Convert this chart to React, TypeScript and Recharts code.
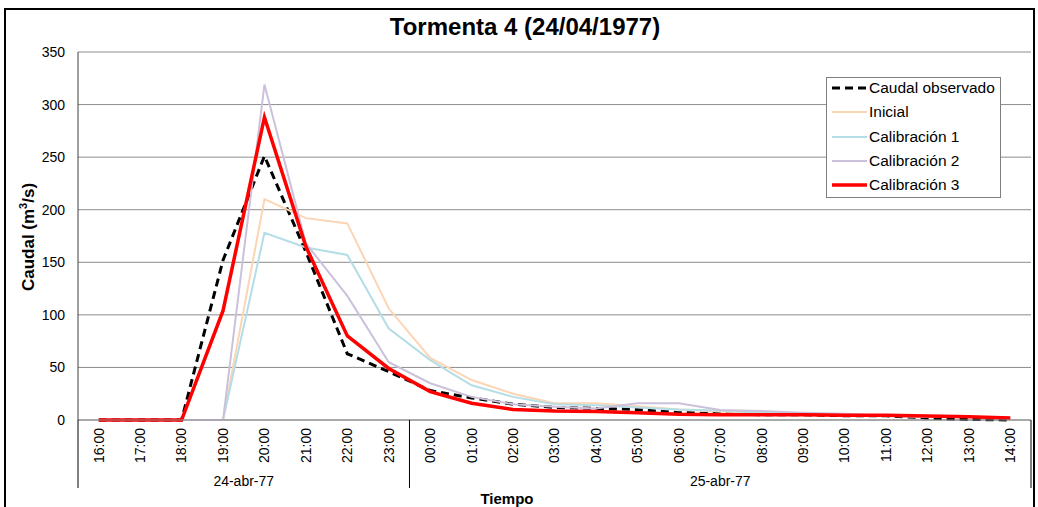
import React from 'react';
import { LineChart, Line, XAxis, YAxis, CartesianGrid } from 'recharts';

// Horas (categorías del eje X)
const times = [
  '16:00', '17:00', '18:00', '19:00', '20:00', '21:00', '22:00', '23:00',
  '00:00', '01:00', '02:00', '03:00', '04:00', '05:00', '06:00', '07:00',
  '08:00', '09:00', '10:00', '11:00', '12:00', '13:00', '14:00',
];

// Agrupación por día (segundo nivel del eje X)
const dayLabels = ['24-abr-77', '25-abr-77'];
const dayCounts = [8, 15];

const yTicks = [0, 50, 100, 150, 200, 250, 300, 350];

// Caudales (m3/s)
const observado = [0, 0, 0, 152, 251, 160, 63, 46, 28, 21, 15, 12, 11, 10, 7, 6, 5, 5, 4, 4, 2, 0.5, 0];
const inicial = [0, 0, 0, 0, 210, 192, 187, 106, 59, 38, 25, 16, 16, 13, 10, 8, 7, 6, 5, 4, 3, 3, 2];
const calibracion1 = [0, 0, 0, 0, 178, 164, 157, 87, 57, 33, 22, 15, 14, 12, 10, 9, 7, 6, 5, 4, 3, 3, 2];
const calibracion2 = [0, 0, 0, 0, 319, 168, 118, 55, 35, 22, 15, 12.5, 11, 16, 16, 9.5, 8.5, 7, 6, 4, 3, 3, 2];
const calibracion3 = [0, 0, 0, 104, 288, 165, 80, 49, 27, 16, 10, 8.5, 8, 7, 5.5, 5, 5, 5, 4.5, 4.4, 3.8, 3, 2];

const series = [
  { key: 'observado', name: 'Caudal observado', values: observado, color: '#000000', width: 3, dash: '8 5' },
  { key: 'inicial', name: 'Inicial', values: inicial, color: '#FCD5B4', width: 2, dash: undefined },
  { key: 'cal1', name: 'Calibración 1', values: calibracion1, color: '#B4DDE6', width: 2, dash: undefined },
  { key: 'cal2', name: 'Calibración 2', values: calibracion2, color: '#CCC1DA', width: 2, dash: undefined },
  { key: 'cal3', name: 'Calibración 3', values: calibracion3, color: '#FF0000', width: 3.5, dash: undefined },
];

const data = times.map((t, i) => {
  const row: any = { time: t };
  series.forEach((s) => {
    row[s.key] = s.values[i];
  });
  return row;
});

const W = 1038;
const H = 507;
const PLOT_LEFT = 78;
const PLOT_RIGHT = 1031;
const PLOT_TOP = 52;
const PLOT_BOTTOM = 420;
const BAND = (PLOT_RIGHT - PLOT_LEFT) / times.length;
const FONT = '"Liberation Sans", Arial, sans-serif';

// start index of each day group
const groupStarts = dayCounts.map((_, g) => dayCounts.slice(0, g).reduce((a, b) => a + b, 0));

const TimeTick = ({ x, y, payload, index }: any) => {
  const g = groupStarts.indexOf(index);
  const isLast = index === times.length - 1;
  return (
    <g>
      <text
        transform={`translate(${x},${y + 8}) rotate(-90)`}
        textAnchor="end"
        dy="0.35em"
        fontSize={14}
        fill="#000"
        fontFamily={FONT}
      >
        {payload.value}
      </text>
      {g >= 0 && (
        <>
          <line x1={x - BAND / 2} x2={x - BAND / 2} y1={y} y2={y + 68} stroke="#000" strokeWidth={1} />
          <text
            x={x + ((dayCounts[g] - 1) / 2) * BAND}
            y={y + 66}
            textAnchor="middle"
            fontSize={14}
            fill="#000"
            fontFamily={FONT}
          >
            {dayLabels[g]}
          </text>
        </>
      )}
      {isLast && (
        <line x1={x + BAND / 2} x2={x + BAND / 2} y1={y} y2={y + 68} stroke="#000" strokeWidth={1} />
      )}
    </g>
  );
};

export default function App() {
  return (
    <div
      style={{
        position: 'absolute',
        left: 0,
        top: 0,
        width: W,
        height: H,
        overflow: 'hidden',
        background: '#fff',
        fontFamily: FONT,
      }}
    >
      {/* marco exterior */}
      <div
        style={{
          position: 'absolute',
          left: 4,
          top: 8,
          width: 1031,
          height: 520,
          border: '2px solid #000',
          boxSizing: 'border-box',
        }}
      />

      <LineChart
        width={W}
        height={H}
        data={data}
        margin={{ top: PLOT_TOP, right: W - PLOT_RIGHT, bottom: 0, left: PLOT_LEFT - 60 }}
        style={{ position: 'absolute', left: 0, top: 0 }}
      >
        <CartesianGrid vertical={false} stroke="#8c8c8c" strokeWidth={1} />
        <XAxis
          dataKey="time"
          scale="band"
          height={H - PLOT_BOTTOM}
          interval={0}
          tick={<TimeTick />}
          tickLine={false}
          tickSize={0}
          tickMargin={0}
          axisLine={{ stroke: '#8c8c8c' }}
        />
        <YAxis
          width={60}
          domain={[0, 350]}
          ticks={yTicks}
          tickLine={false}
          tickSize={0}
          tickMargin={13}
          axisLine={{ stroke: '#404040' }}
          tick={{ fontSize: 14, fill: '#000', fontFamily: FONT }}
        />
        <YAxis
          yAxisId="right"
          orientation="right"
          width={0}
          domain={[0, 350]}
          tick={false}
          tickLine={false}
          axisLine={{ stroke: '#8c8c8c' }}
        />
        {series.map((s) => (
          <Line
            key={s.key}
            type="linear"
            dataKey={s.key}
            name={s.name}
            stroke={s.color}
            strokeWidth={s.width}
            strokeDasharray={s.dash}
            dot={false}
            activeDot={false}
            isAnimationActive={false}
          />
        ))}
      </LineChart>

      {/* título */}
      <div
        style={{
          position: 'absolute',
          left: 0,
          width: W + 12,
          top: 13,
          textAlign: 'center',
          fontSize: 24,
          fontWeight: 'bold',
        }}
      >
        Tormenta 4 (24/04/1977)
      </div>

      {/* título eje Y */}
      <div
        style={{
          position: 'absolute',
          left: 28,
          top: 237,
          transform: 'translate(-50%, -50%) rotate(-90deg)',
          whiteSpace: 'nowrap',
          fontSize: 17,
          fontWeight: 'bold',
        }}
      >
        Caudal (m<sup style={{ fontSize: 11 }}>3</sup>/s)
      </div>

      {/* título eje X */}
      <div
        style={{
          position: 'absolute',
          left: 507,
          top: 498,
          transform: 'translate(-50%, -50%)',
          fontSize: 15,
          fontWeight: 'bold',
        }}
      >
        Tiempo
      </div>

      {/* leyenda */}
      <div
        style={{
          position: 'absolute',
          left: 826,
          top: 77,
          width: 175,
          height: 121,
          border: '1px solid #7f7f7f',
          background: '#fff',
          boxSizing: 'border-box',
        }}
      >
        {series.map((s) => (
          <div
            key={s.key}
            style={{ display: 'flex', alignItems: 'center', height: 24.3, fontSize: 15.5, marginTop: s.key === 'observado' ? -2 : 0 }}
          >
            <svg width={38} height={10} style={{ marginLeft: 4 }}>
              <line
                x1={1}
                x2={36}
                y1={5}
                y2={5}
                stroke={s.color}
                strokeWidth={s.width}
                strokeDasharray={s.dash}
              />
            </svg>
            <span>{s.name}</span>
          </div>
        ))}
      </div>
    </div>
  );
}
